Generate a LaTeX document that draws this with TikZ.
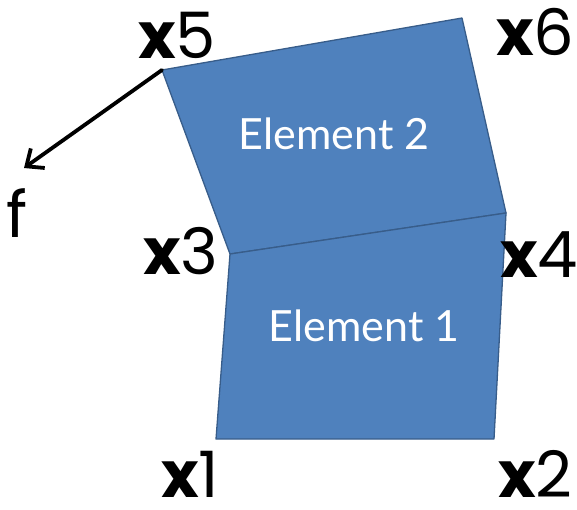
\documentclass[tikz,border=0pt]{standalone}
\usepackage{fontspec}
\setmainfont{Poppins}
\newfontfamily\elfont{Lato}
\usetikzlibrary{arrows.meta}
\definecolor{elfill}{HTML}{4F81BD}
\definecolor{eldraw}{HTML}{385D8A}
\tikzset{
  elem/.style={fill=elfill, draw=eldraw, line width=1.3pt, line join=round},
  lbl/.style={font=\fontsize{64}{64}\selectfont, text=black, inner sep=0pt, anchor=base west},
  eltext/.style={font=\elfont\fontsize{43}{43}\selectfont, text=white, inner sep=0pt},
  force/.style={line width=3.8pt, -{Straight Barb[length=14pt,width=24pt,line width=3.8pt]}, line cap=round}
}
\begin{document}
\begin{tikzpicture}[x=1pt,y=-1pt]
\useasboundingbox (0,0) rectangle (577,509);
% vertices
\coordinate (x1) at (216,439);
\coordinate (x2) at (494,439);
\coordinate (x3) at (230,254);
\coordinate (x4) at (506,213);
\coordinate (x5) at (162,70);
\coordinate (x6) at (462,18);
\coordinate (ftip) at (24,168);
% elements
\draw[elem] (x3) -- (x4) -- (x6) -- (x5) -- cycle;
\draw[elem] (x1) -- (x2) -- (x4) -- (x3) -- cycle;
\node[eltext] (e1) at (364,326) {Element 1};
\node[eltext] (e2) at (334,134) {Element 2};
% force
\draw[force] (x5) -- (ftip);
% labels
\node[lbl] (l5) at (138,58) {\textbf{x}5};
\node[lbl] (l6) at (496,55) {\textbf{x}6};
\node[lbl] (lf) at (6,237) {f};
\node[lbl] (l3) at (143,274) {\textbf{x}3};
\node[lbl] (l4) at (500,277) {\textbf{x}4};
\node[lbl] (l1) at (161,497) {\textbf{x}1};
\node[lbl] (l2) at (498,497) {\textbf{x}2};
\end{tikzpicture}
\end{document}
